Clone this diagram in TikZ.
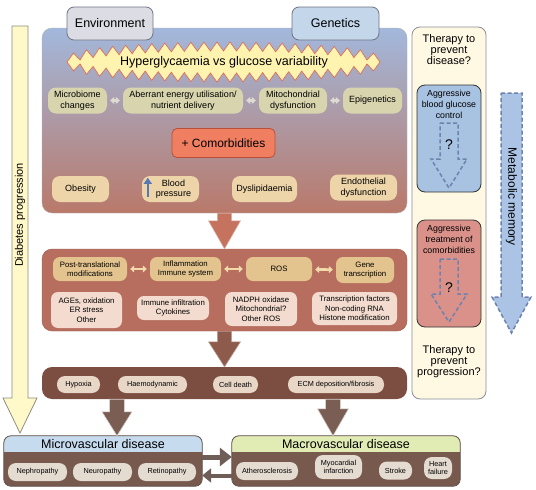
\documentclass[tikz,border=0pt]{standalone}
\usepackage{fontspec}
\setmainfont{Liberation Sans}
\usetikzlibrary{arrows.meta,calc}

\definecolor{panelTop}{HTML}{A2B8DC}
\definecolor{panelMid}{HTML}{AE9FB4}
\definecolor{panelBot}{HTML}{B9796A}
\definecolor{envTab}{HTML}{DCDDE4}
\definecolor{genTab}{HTML}{C4D6EA}
\definecolor{tabEdge}{HTML}{6F7383}
\definecolor{burstFill}{HTML}{FFF3B0}
\definecolor{burstEdge}{HTML}{E0654C}
\definecolor{causeFill}{HTML}{D8D5AE}
\definecolor{causeLink}{HTML}{DEDBD2}
\definecolor{comorbFill}{HTML}{F07F62}
\definecolor{comorbEdge}{HTML}{B5503A}
\definecolor{riskFill}{HTML}{EDD5A9}
\definecolor{mechFill}{HTML}{B76E5E}
\definecolor{mechEdge}{HTML}{9A5A4C}
\definecolor{pathFill}{HTML}{E3C48F}
\definecolor{pathLink}{HTML}{F3DAAA}
\definecolor{detailFill}{HTML}{F3DCCF}
\definecolor{dmgFill}{HTML}{7C4D41}
\definecolor{dmgNode}{HTML}{E8D6C7}
\definecolor{bigArrowA}{HTML}{C5735F}
\definecolor{bigArrowB}{HTML}{8E5A4C}
\definecolor{bigArrowC}{HTML}{7A5E54}
\definecolor{diseaseBody}{HTML}{77594E}
\definecolor{diseaseEdge}{HTML}{5B4740}
\definecolor{diseaseNode}{HTML}{E4DBD1}
\definecolor{microHead}{HTML}{C7DBEF}
\definecolor{macroHead}{HTML}{E1EBB4}
\definecolor{sideArrow}{HTML}{6F5E58}
\definecolor{progFill}{HTML}{FFF8C8}
\definecolor{progEdge}{HTML}{8C8C80}
\definecolor{therapyFill}{HTML}{FFF9E3}
\definecolor{therapyEdge}{HTML}{8A8D99}
\definecolor{glucFill}{HTML}{A8C2E2}
\definecolor{treatFill}{HTML}{D9918A}
\definecolor{dashBlue}{HTML}{6E82AE}
\definecolor{memFill}{HTML}{ABC4E5}
\definecolor{bpBlue}{HTML}{5877B5}

\tikzset{
  tab/.style={draw=tabEdge, line width=0.8pt, rounded corners=7pt, minimum width=86pt,
    minimum height=33pt, font=\fontsize{12.5}{14}\selectfont},
  burst/.style={fill=burstFill, draw=burstEdge, line width=0.6pt},
  cause/.style={fill=causeFill, rounded corners=8pt, minimum height=26pt, align=center,
    inner sep=1pt, font=\fontsize{9}{10.5}\selectfont},
  risk/.style={fill=riskFill, rounded corners=8pt, minimum height=26pt, align=center,
    inner sep=1pt, font=\fontsize{9}{10.5}\selectfont},
  path/.style={fill=pathFill, rounded corners=7pt, minimum height=24pt, align=center,
    inner sep=1pt, font=\fontsize{7.8}{9.5}\selectfont},
  detail/.style={fill=detailFill, rounded corners=7pt, align=center,
    inner sep=1pt, font=\fontsize{7.8}{9.5}\selectfont},
  damage/.style={fill=dmgNode, rounded corners=8pt, minimum height=17pt,
    inner sep=1pt, font=\fontsize{7.3}{8.5}\selectfont},
  outcome/.style={fill=diseaseNode, rounded corners=8pt, minimum height=18pt, align=center,
    inner sep=1pt, font=\fontsize{7.3}{8.5}\selectfont},
  panel/.style={rounded corners=10pt, minimum width=365pt, inner sep=0pt},
  link/.style={draw=#1, line width=2.6pt, shorten <=3pt, shorten >=3pt,
    {Triangle[length=4pt,width=7pt]}-{Triangle[length=4pt,width=7pt]}},
  sidelink/.style={draw=sideArrow, line width=5pt, -{Triangle[length=12pt,width=18pt]}},
  disease/.style={fill=diseaseBody, rounded corners=7pt, minimum height=50pt, inner sep=0pt},
  title/.style={font=\fontsize{12.5}{14}\selectfont},
  therapytext/.style={align=center, font=\fontsize{11}{11}\selectfont},
  treat/.style={draw=black!80, line width=0.8pt, rounded corners=8pt, minimum width=64pt,
    minimum height=107pt},
  treattext/.style={align=center, font=\fontsize{8.8}{11}\selectfont},
  qarrow/.style={draw=dashBlue, line width=1.5pt, dash pattern=on 4pt off 2.5pt},
}

% down-pointing block arrow: style, from, to, shaft half width, head half width, head length
\newcommand{\blockarrow}[6]{%
  \path[#1] let \p1=(#2), \p2=(#3) in
    (\x1-#4,\y1) -- (\x1+#4,\y1) -- (\x1+#4,\y2+#6) -- (\x1+#5,\y2+#6) -- (\x1,\y2)
    -- (\x1-#5,\y2+#6) -- (\x1-#4,\y2+#6) -- cycle;}

\begin{document}
\begin{tikzpicture}[x=1pt,y=-1pt]
\useasboundingbox (0,0) rectangle (536,490);

% diabetes progression
\blockarrow{fill=progFill,draw=progEdge,line width=0.8pt}{20,26}{20,433}{8pt}{17pt}{35pt}
\node[rotate=90, font=\fontsize{11}{12}\selectfont] (prog) at (20,215) {Diabetes progression};

% risk factor panel
\node[panel, minimum height=185pt, top color=panelTop, middle color=panelMid,
  bottom color=panelBot, draw=black!30] (riskpanel) at (224.5,120.5) {};
\node[tab, fill=envTab] (env) at (110,23.5) {Environment};
\node[tab, fill=genTab, minimum width=87pt] (gen) at (335.5,23.5) {Genetics};

\draw[burst] (67,62)
  \foreach \i [evaluate=\i as \e using {20*sin(180*\i/48)^0.3-(mod(\i,2)==0 ? 9 : 0)}]
    in {1,...,47} { -- ({67+\i*6.52},{62-\e}) }
  -- (380,62)
  \foreach \i [evaluate=\i as \e using {20*sin(180*\i/48)^0.3-(mod(\i,2)==0 ? 9 : 0)}]
    in {47,46,...,1} { -- ({67+\i*6.52},{62+\e}) }
  -- cycle;
\node[title] (hyper) at (224,62) {Hyperglycaemia vs glucose variability};

\node[cause, minimum width=59pt] (microbiome) at (77.5,100.5) {Microbiome\\changes};
\node[cause, minimum width=120pt] (energy) at (183,100.5) {Aberrant energy utilisation/\\nutrient delivery};
\node[cause, minimum width=68pt] (mito) at (293,100.5) {Mitochondrial\\dysfunction};
\node[cause, minimum width=59pt] (epi) at (372.5,100.5) {Epigenetics};
\draw[link=causeLink] (microbiome) -- (energy);
\draw[link=causeLink] (energy) -- (mito);
\draw[link=causeLink] (mito) -- (epi);

\node[fill=comorbFill, draw=comorbEdge, line width=0.8pt, rounded corners=5pt,
  minimum width=103pt, minimum height=29pt, font=\fontsize{12}{14}\selectfont]
  (comorb) at (223.5,143) {+ Comorbidities};

\node[risk, minimum width=57pt] (obesity) at (80.5,189) {Obesity};
\node[risk, minimum width=57pt] (bp) at (170.5,189) {\hspace*{6pt}Blood\\\hspace*{6pt}pressure};
\node[risk, minimum width=65pt] (dyslip) at (264.5,189) {Dyslipidaemia};
\node[risk, minimum width=67pt] (endo) at (363.5,187.5) {Endothelial\\dysfunction};
\draw[bpBlue, line width=2.4pt, -{Triangle[length=6pt,width=8pt]}]
  ([xshift=6pt,yshift=5pt]bp.south west) -- ([xshift=6pt,yshift=-2pt]bp.north west);

% mechanisms panel
\node[panel, minimum height=82pt, fill=mechFill, draw=mechEdge] (mechpanel) at (224.5,290) {};
\blockarrow{fill=bigArrowA,draw=bigArrowA!60!white,line width=0.6pt}{riskpanel.south}{mechpanel.north}{7pt}{16pt}{28pt}

\node[path, minimum width=74pt] (ptm) at (90,269) {Post-translational\\modifications};
\node[path, minimum width=71pt] (inflam) at (185.5,269) {Inflammation\\Immune system};
\node[path, minimum width=66pt] (ros) at (279,269) {ROS};
\node[path, minimum width=58pt, minimum height=26pt] (gene) at (365,270) {Gene\\transcription};
\draw[link=pathLink] (ptm) -- (inflam);
\draw[link=pathLink] (inflam) -- (ros);
\draw[link=pathLink] (ros) -- (gene);

\node[detail, minimum width=71pt, minimum height=36pt] (ages) at (86.5,310) {AGEs, oxidation\\ER stress\\Other};
\node[detail, minimum width=72pt, minimum height=24pt] (immune) at (173,308) {Immune infiltration\\Cytokines};
\node[detail, minimum width=72pt, minimum height=34pt] (nadph) at (261,309) {NADPH oxidase\\Mitochondrial?\\Other ROS};
\node[detail, minimum width=85pt, minimum height=33pt] (tf) at (354.5,308.5) {Transcription factors\\Non-coding RNA\\Histone modification};

% damage panel
\node[panel, minimum height=32pt, fill=dmgFill] (dmgpanel) at (224.5,383) {};
\blockarrow{fill=bigArrowB,draw=bigArrowB!60!white,line width=0.6pt}{mechpanel.south}{dmgpanel.north}{7pt}{16pt}{25pt}
\node[damage, minimum width=43pt] (hypoxia) at (78.5,384.5) {Hypoxia};
\node[damage, minimum width=69pt] (haemo) at (152.5,384.5) {Haemodynamic};
\node[damage, minimum width=45pt] (death) at (235.5,384.5) {Cell death};
\node[damage, minimum width=96pt] (ecm) at (336,384.5) {ECM deposition/fibrosis};

% disease boxes
\node[disease, minimum width=198pt] (micro) at (103,461) {};
\node[disease, minimum width=228pt] (macro) at (346,461) {};
\begin{scope}
  \clip[rounded corners=7pt] (micro.south west) rectangle (micro.north east);
  \fill[microHead] (micro.north west) rectangle ([yshift=-16pt]micro.north east);
\end{scope}
\begin{scope}
  \clip[rounded corners=7pt] (macro.south west) rectangle (macro.north east);
  \fill[macroHead] (macro.north west) rectangle ([yshift=-16pt]macro.north east);
\end{scope}
\draw[diseaseEdge, line width=0.8pt, rounded corners=7pt] (micro.south west) rectangle (micro.north east);
\draw[diseaseEdge, line width=0.8pt, rounded corners=7pt] (macro.south west) rectangle (macro.north east);
\node[title] (microtitle) at (103,444) {Microvascular disease};
\node[title] (macrotitle) at (346,444) {Macrovascular disease};

\coordinate (dmgA) at (dmgpanel.south -| 117,0);
\coordinate (dmgB) at (dmgpanel.south -| 333,0);
\blockarrow{fill=bigArrowC,draw=white!70!bigArrowC,line width=0.6pt}{dmgA}{micro.north -| 117,0}{7.5pt}{15pt}{24pt}
\blockarrow{fill=bigArrowC,draw=white!70!bigArrowC,line width=0.6pt}{dmgB}{macro.north -| 333,0}{7.5pt}{15.5pt}{27pt}

\node[outcome, minimum width=59pt] (neph) at (37.5,472) {Nephropathy};
\node[outcome, minimum width=59pt] (neuro) at (102.5,472) {Neuropathy};
\node[outcome, minimum width=58pt] (retino) at (167,472) {Retinopathy};
\node[outcome, minimum width=62pt] (athero) at (267,471) {Atherosclerosis};
\node[outcome, minimum width=47pt, minimum height=24pt] (myo) at (338.5,467) {Myocardial\\infarction};
\node[outcome, minimum width=33pt] (stroke) at (395.5,470.5) {Stroke};
\node[outcome, minimum width=28pt, minimum height=22pt] (hf) at (438,468) {Heart\\failure};

\draw[sidelink] (micro.east |- 0,457) -- (macro.west |- 0,457);
\draw[sidelink, line width=4pt, -{Triangle[length=9pt,width=14pt]}] (macro.west |- 0,475.5) -- (micro.east |- 0,475.5);

% therapy column
\node[fill=therapyFill, draw=therapyEdge, line width=0.8pt, rounded corners=8pt,
  minimum width=74pt, minimum height=372pt] (therapy) at (449,213) {};
\node[therapytext] (prevdis) at (449,50) {Therapy to\\prevent\\disease?};
\node[therapytext] (prevprog) at (449,362) {Therapy to\\prevent\\progression?};

\node[treat, fill=glucFill] (gluc) at (449,138.5) {};
\node[treattext, anchor=north] (gluctext) at ([yshift=-2pt]gluc.north) {Aggressive\\blood glucose\\control};
\blockarrow{qarrow}{449,123}{449,188}{9pt}{18pt}{29pt}
\node[font=\fontsize{14}{16}\selectfont] (q1) at (449,145) {?};

\node[treat, fill=treatFill] (treat) at (449,273.5) {};
\node[treattext, anchor=north] (treattext) at ([yshift=-2pt]treat.north) {Aggressive\\treatment of\\comorbidities};
\blockarrow{qarrow}{449,259}{449,322}{9pt}{18pt}{28pt}
\node[font=\fontsize{14}{16}\selectfont] (q2) at (449,288) {?};

% metabolic memory
\blockarrow{qarrow, fill=memFill}{511.5,93}{511.5,333}{10.5pt}{19.5pt}{36pt}
\node[rotate=-90, font=\fontsize{12}{14}\selectfont] (memory) at (511.5,197) {Metabolic memory};

\end{tikzpicture}
\end{document}
